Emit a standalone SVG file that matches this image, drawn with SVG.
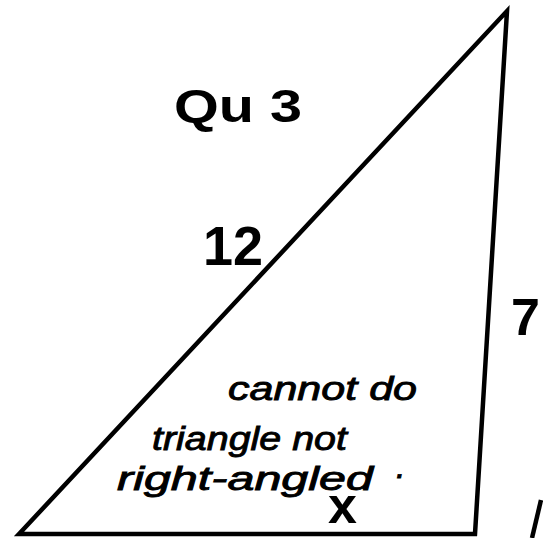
<svg xmlns="http://www.w3.org/2000/svg" width="543" height="538" viewBox="0 0 543 538">
  <style>
    .edge { fill: none; stroke: #000; stroke-width: 4.5; stroke-linejoin: miter; stroke-linecap: butt; }
    .lbl { font-family: "Liberation Sans", Arial, sans-serif; font-weight: bold; fill: #000; }
    .hand { font-family: "Liberation Sans", Arial, sans-serif; font-style: italic; fill: #000; stroke: #000; stroke-width: 0.9; }
  </style>
  <rect width="543" height="538" fill="#fff"/>
  <g id="connectors">
    <polygon id="triangle" class="edge" points="19,534 507,11 475,534"/>
    <line id="slash" class="edge" x1="541" y1="500" x2="532" y2="538" stroke-width="5"/>
  </g>
  <g id="title">
    <text class="lbl" x="174" y="122" font-size="47" textLength="128" lengthAdjust="spacingAndGlyphs" font-family="DejaVu Sans, sans-serif">Qu 3</text>
  </g>
  <g id="label-12">
    <text class="lbl" x="203" y="265" font-size="55" textLength="60" lengthAdjust="spacingAndGlyphs">12</text>
  </g>
  <g id="label-7">
    <text class="lbl" x="511" y="335" font-size="52">7</text>
  </g>
  <g id="label-x">
    <text class="lbl" x="328" y="523" font-size="52">x</text>
  </g>
  <g id="note">
    <text class="hand" x="228" y="400" font-size="34" textLength="189" lengthAdjust="spacingAndGlyphs">cannot do</text>
    <text class="hand" x="152" y="450" font-size="34" textLength="195" lengthAdjust="spacingAndGlyphs">triangle not</text>
    <text class="hand" x="117" y="490" font-size="34" textLength="256" lengthAdjust="spacingAndGlyphs">right-angled</text>
    <text class="hand" x="396" y="478" font-size="34">.</text>
  </g>
</svg>
